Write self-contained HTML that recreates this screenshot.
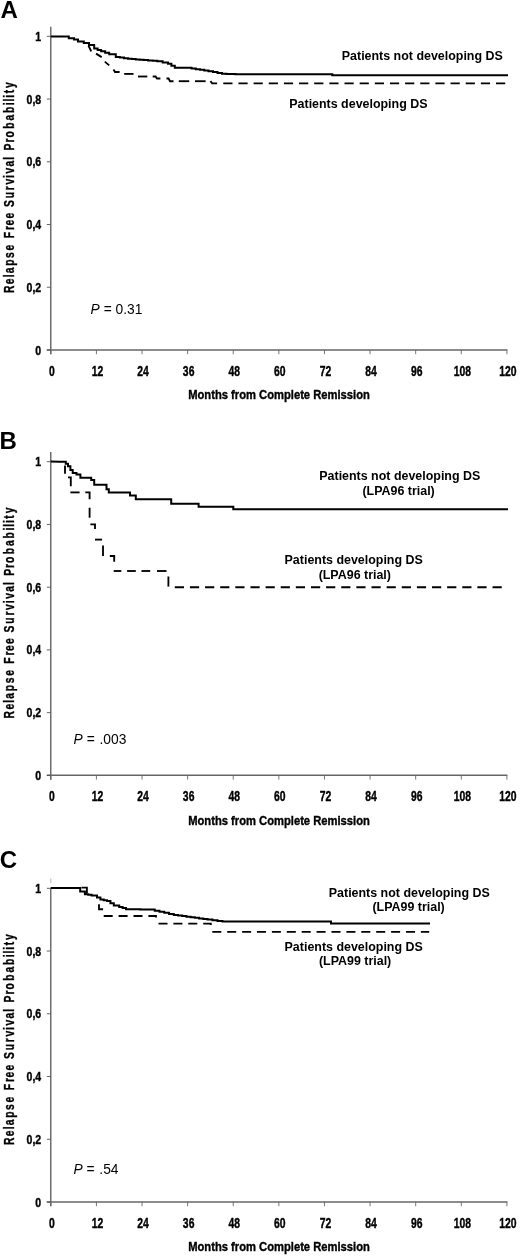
<!DOCTYPE html>
<html><head><meta charset="utf-8"><title>Figure</title>
<style>
html,body{margin:0;padding:0;background:#fff;}
svg{display:block;font-family:"Liberation Sans",sans-serif;fill:#000;}
</style></head>
<body>
<svg width="520" height="1258" viewBox="0 0 520 1258">
<rect width="520" height="1258" fill="#fff"/>
<!--PANEL A-->
<path d="M50.80,26.70 V354.30" fill="none" stroke="#4a4a4a" stroke-width="1.2"/>
<path d="M46.80,349.90 H507.40" fill="none" stroke="#666" stroke-width="1.5"/>
<path d="M46.80,350.00 H50.80" stroke="#555" stroke-width="0.9"/>
<text transform="translate(41.20,354.50) scale(0.77,1)" text-anchor="end" font-size="13.7" font-weight="bold" stroke="#000" stroke-width="0.4" >0</text>
<path d="M46.80,287.26 H50.80" stroke="#555" stroke-width="0.9"/>
<text transform="translate(41.20,291.76) scale(0.77,1)" text-anchor="end" font-size="13.7" font-weight="bold" stroke="#000" stroke-width="0.4" >0,2</text>
<path d="M46.80,224.52 H50.80" stroke="#555" stroke-width="0.9"/>
<text transform="translate(41.20,229.02) scale(0.77,1)" text-anchor="end" font-size="13.7" font-weight="bold" stroke="#000" stroke-width="0.4" >0,4</text>
<path d="M46.80,161.78 H50.80" stroke="#555" stroke-width="0.9"/>
<text transform="translate(41.20,166.28) scale(0.77,1)" text-anchor="end" font-size="13.7" font-weight="bold" stroke="#000" stroke-width="0.4" >0,6</text>
<path d="M46.80,99.04 H50.80" stroke="#555" stroke-width="0.9"/>
<text transform="translate(41.20,103.54) scale(0.77,1)" text-anchor="end" font-size="13.7" font-weight="bold" stroke="#000" stroke-width="0.4" >0,8</text>
<path d="M46.80,36.30 H50.80" stroke="#555" stroke-width="0.9"/>
<text transform="translate(41.20,40.80) scale(0.77,1)" text-anchor="end" font-size="13.7" font-weight="bold" stroke="#000" stroke-width="0.4" >1</text>
<path d="M50.80,349.90 V354.20" stroke="#666" stroke-width="0.9"/>
<text transform="translate(51.80,375.60) scale(0.735,1)" text-anchor="middle" font-size="14.1" font-weight="bold" stroke="#000" stroke-width="0.4" >0</text>
<path d="M96.41,349.90 V354.20" stroke="#666" stroke-width="0.9"/>
<text transform="translate(97.41,375.60) scale(0.735,1)" text-anchor="middle" font-size="14.1" font-weight="bold" stroke="#000" stroke-width="0.4" >12</text>
<path d="M142.02,349.90 V354.20" stroke="#666" stroke-width="0.9"/>
<text transform="translate(143.02,375.60) scale(0.735,1)" text-anchor="middle" font-size="14.1" font-weight="bold" stroke="#000" stroke-width="0.4" >24</text>
<path d="M187.63,349.90 V354.20" stroke="#666" stroke-width="0.9"/>
<text transform="translate(188.63,375.60) scale(0.735,1)" text-anchor="middle" font-size="14.1" font-weight="bold" stroke="#000" stroke-width="0.4" >36</text>
<path d="M233.24,349.90 V354.20" stroke="#666" stroke-width="0.9"/>
<text transform="translate(234.24,375.60) scale(0.735,1)" text-anchor="middle" font-size="14.1" font-weight="bold" stroke="#000" stroke-width="0.4" >48</text>
<path d="M278.85,349.90 V354.20" stroke="#666" stroke-width="0.9"/>
<text transform="translate(279.85,375.60) scale(0.735,1)" text-anchor="middle" font-size="14.1" font-weight="bold" stroke="#000" stroke-width="0.4" >60</text>
<path d="M324.46,349.90 V354.20" stroke="#666" stroke-width="0.9"/>
<text transform="translate(325.46,375.60) scale(0.735,1)" text-anchor="middle" font-size="14.1" font-weight="bold" stroke="#000" stroke-width="0.4" >72</text>
<path d="M370.07,349.90 V354.20" stroke="#666" stroke-width="0.9"/>
<text transform="translate(371.07,375.60) scale(0.735,1)" text-anchor="middle" font-size="14.1" font-weight="bold" stroke="#000" stroke-width="0.4" >84</text>
<path d="M415.68,349.90 V354.20" stroke="#666" stroke-width="0.9"/>
<text transform="translate(416.68,375.60) scale(0.735,1)" text-anchor="middle" font-size="14.1" font-weight="bold" stroke="#000" stroke-width="0.4" >96</text>
<path d="M461.29,349.90 V354.20" stroke="#666" stroke-width="0.9"/>
<text transform="translate(462.29,375.60) scale(0.735,1)" text-anchor="middle" font-size="14.1" font-weight="bold" stroke="#000" stroke-width="0.4" >108</text>
<path d="M506.90,349.90 V354.20" stroke="#666" stroke-width="0.9"/>
<text transform="translate(507.90,375.60) scale(0.735,1)" text-anchor="middle" font-size="14.1" font-weight="bold" stroke="#000" stroke-width="0.4" >120</text>
<text transform="translate(279.00,399.20) scale(0.818,1)" text-anchor="middle" font-size="13.7" font-weight="bold" stroke="#000" stroke-width="0.4" >Months from Complete Remission</text>
<text transform="translate(13.7,0) rotate(-90) scale(0.72,1)" x="-406.95 -394.63 -385.06 -379.63 -369.08 -358.24 -347.82 -339.37 -331.03 -319.46 -313.17 -303.45 -295.00 -287.57 -275.47 -264.18 -256.37 -247.07 -240.88 -231.09 -221.79 -217.32 -208.96 -198.07 -191.03 -178.81 -167.48 -156.93 -146.03 -140.89 -135.68 -129.58 -122.20" y="0" font-size="14.3" font-weight="bold" stroke="#000" stroke-width="0.35">Relapse Free Survival Probability</text>
<text x="0.6" y="17.8" font-size="24" font-weight="bold">A</text>
<polyline points="88.40,45.50 91.30,51.30" fill="none" stroke="#000" stroke-width="1.85" stroke-dasharray="none" stroke-dashoffset="0"/>
<polyline points="96.00,53.60 101.70,57.10" fill="none" stroke="#000" stroke-width="1.85" stroke-dasharray="none" stroke-dashoffset="0"/>
<polyline points="104.80,61.60 109.20,65.40" fill="none" stroke="#000" stroke-width="1.85" stroke-dasharray="none" stroke-dashoffset="0"/>
<polyline points="113.50,69.60 115.00,72.00 119.60,72.00" fill="none" stroke="#000" stroke-width="1.85" stroke-dasharray="none" stroke-dashoffset="0"/>
<polyline points="124.20,73.90 133.50,73.90" fill="none" stroke="#000" stroke-width="1.85" stroke-dasharray="none" stroke-dashoffset="0"/>
<polyline points="138.00,76.50 147.30,76.50" fill="none" stroke="#000" stroke-width="1.85" stroke-dasharray="none" stroke-dashoffset="0"/>
<polyline points="152.70,76.50 155.60,76.50 157.00,78.50 160.40,78.50" fill="none" stroke="#000" stroke-width="1.85" stroke-dasharray="none" stroke-dashoffset="0"/>
<polyline points="166.50,78.50 168.60,78.50 170.00,81.20 173.50,81.20" fill="none" stroke="#000" stroke-width="1.85" stroke-dasharray="none" stroke-dashoffset="0"/>
<polyline points="178.80,81.20 189.20,81.20" fill="none" stroke="#000" stroke-width="1.85" stroke-dasharray="none" stroke-dashoffset="0"/>
<polyline points="195.00,81.20 205.60,81.20" fill="none" stroke="#000" stroke-width="1.85" stroke-dasharray="none" stroke-dashoffset="0"/>
<polyline points="210.40,81.20 212.20,83.40 217.10,83.40" fill="none" stroke="#000" stroke-width="1.85" stroke-dasharray="none" stroke-dashoffset="0"/>
<polyline points="223.30,83.40 505.60,83.40" fill="none" stroke="#000" stroke-width="1.85" stroke-dasharray="9.2 5.95" stroke-dashoffset="0"/>
<polyline points="50.80,36.40 64.80,36.40 68.80,36.40 68.80,38.30 74.00,38.30 74.00,39.50 78.00,39.50 78.00,41.50 83.80,41.50 83.80,42.90 89.00,42.90 89.00,45.00 94.20,45.00 94.20,48.50 97.65,48.50 97.65,49.90 101.10,49.90 101.10,51.30 105.15,51.30 105.15,52.75 109.20,52.75 109.20,54.20 115.80,54.20 115.80,57.00 119.87,57.00 119.87,57.60 123.93,57.60 123.93,58.20 128.00,58.20 128.00,58.80 131.88,58.80 131.88,59.10 135.75,59.10 135.75,59.40 139.62,59.40 139.62,59.70 143.50,59.70 143.50,60.00 148.10,60.00 148.10,60.40 152.70,60.40 152.70,60.80 157.30,60.80 157.30,61.20 162.65,61.20 162.65,62.50 168.00,62.50 168.00,63.80 171.40,63.80 171.40,65.75 174.80,65.75 174.80,67.70 187.30,67.70 191.54,67.70 191.54,68.42 195.78,68.42 195.78,69.14 200.02,69.14 200.02,69.86 204.26,69.86 204.26,70.58 208.50,70.58 208.50,71.30 213.00,71.30 213.00,72.10 217.50,72.10 217.50,72.90 222.00,72.90 222.00,73.70 226.47,73.70 226.47,73.90 230.93,73.90 230.93,74.10 235.40,74.10 235.40,74.30 331.50,74.30 332.30,74.30 332.30,75.30 508.00,75.30" fill="none" stroke="#000" stroke-width="2.0" stroke-linejoin="miter"/>
<text x="422.3" y="60.1" text-anchor="middle" font-size="12.45" font-weight="bold">Patients not developing DS</text>
<text x="358.4" y="107.6" text-anchor="middle" font-size="12.45" font-weight="bold">Patients developing DS</text>
<text x="90.6" y="313.5" font-size="13.8"><tspan font-style="italic">P</tspan> = 0.31</text>
<!--PANEL B-->
<path d="M50.80,452.10 V779.70" fill="none" stroke="#4a4a4a" stroke-width="1.2"/>
<path d="M46.80,775.30 H507.40" fill="none" stroke="#666" stroke-width="1.5"/>
<path d="M46.80,775.40 H50.80" stroke="#555" stroke-width="0.9"/>
<text transform="translate(41.20,779.90) scale(0.77,1)" text-anchor="end" font-size="13.7" font-weight="bold" stroke="#000" stroke-width="0.4" >0</text>
<path d="M46.80,712.66 H50.80" stroke="#555" stroke-width="0.9"/>
<text transform="translate(41.20,717.16) scale(0.77,1)" text-anchor="end" font-size="13.7" font-weight="bold" stroke="#000" stroke-width="0.4" >0,2</text>
<path d="M46.80,649.92 H50.80" stroke="#555" stroke-width="0.9"/>
<text transform="translate(41.20,654.42) scale(0.77,1)" text-anchor="end" font-size="13.7" font-weight="bold" stroke="#000" stroke-width="0.4" >0,4</text>
<path d="M46.80,587.18 H50.80" stroke="#555" stroke-width="0.9"/>
<text transform="translate(41.20,591.68) scale(0.77,1)" text-anchor="end" font-size="13.7" font-weight="bold" stroke="#000" stroke-width="0.4" >0,6</text>
<path d="M46.80,524.44 H50.80" stroke="#555" stroke-width="0.9"/>
<text transform="translate(41.20,528.94) scale(0.77,1)" text-anchor="end" font-size="13.7" font-weight="bold" stroke="#000" stroke-width="0.4" >0,8</text>
<path d="M46.80,461.70 H50.80" stroke="#555" stroke-width="0.9"/>
<text transform="translate(41.20,466.20) scale(0.77,1)" text-anchor="end" font-size="13.7" font-weight="bold" stroke="#000" stroke-width="0.4" >1</text>
<path d="M50.80,775.30 V779.60" stroke="#666" stroke-width="0.9"/>
<text transform="translate(51.80,801.00) scale(0.735,1)" text-anchor="middle" font-size="14.1" font-weight="bold" stroke="#000" stroke-width="0.4" >0</text>
<path d="M96.41,775.30 V779.60" stroke="#666" stroke-width="0.9"/>
<text transform="translate(97.41,801.00) scale(0.735,1)" text-anchor="middle" font-size="14.1" font-weight="bold" stroke="#000" stroke-width="0.4" >12</text>
<path d="M142.02,775.30 V779.60" stroke="#666" stroke-width="0.9"/>
<text transform="translate(143.02,801.00) scale(0.735,1)" text-anchor="middle" font-size="14.1" font-weight="bold" stroke="#000" stroke-width="0.4" >24</text>
<path d="M187.63,775.30 V779.60" stroke="#666" stroke-width="0.9"/>
<text transform="translate(188.63,801.00) scale(0.735,1)" text-anchor="middle" font-size="14.1" font-weight="bold" stroke="#000" stroke-width="0.4" >36</text>
<path d="M233.24,775.30 V779.60" stroke="#666" stroke-width="0.9"/>
<text transform="translate(234.24,801.00) scale(0.735,1)" text-anchor="middle" font-size="14.1" font-weight="bold" stroke="#000" stroke-width="0.4" >48</text>
<path d="M278.85,775.30 V779.60" stroke="#666" stroke-width="0.9"/>
<text transform="translate(279.85,801.00) scale(0.735,1)" text-anchor="middle" font-size="14.1" font-weight="bold" stroke="#000" stroke-width="0.4" >60</text>
<path d="M324.46,775.30 V779.60" stroke="#666" stroke-width="0.9"/>
<text transform="translate(325.46,801.00) scale(0.735,1)" text-anchor="middle" font-size="14.1" font-weight="bold" stroke="#000" stroke-width="0.4" >72</text>
<path d="M370.07,775.30 V779.60" stroke="#666" stroke-width="0.9"/>
<text transform="translate(371.07,801.00) scale(0.735,1)" text-anchor="middle" font-size="14.1" font-weight="bold" stroke="#000" stroke-width="0.4" >84</text>
<path d="M415.68,775.30 V779.60" stroke="#666" stroke-width="0.9"/>
<text transform="translate(416.68,801.00) scale(0.735,1)" text-anchor="middle" font-size="14.1" font-weight="bold" stroke="#000" stroke-width="0.4" >96</text>
<path d="M461.29,775.30 V779.60" stroke="#666" stroke-width="0.9"/>
<text transform="translate(462.29,801.00) scale(0.735,1)" text-anchor="middle" font-size="14.1" font-weight="bold" stroke="#000" stroke-width="0.4" >108</text>
<path d="M506.90,775.30 V779.60" stroke="#666" stroke-width="0.9"/>
<text transform="translate(507.90,801.00) scale(0.735,1)" text-anchor="middle" font-size="14.1" font-weight="bold" stroke="#000" stroke-width="0.4" >120</text>
<text transform="translate(279.00,824.60) scale(0.818,1)" text-anchor="middle" font-size="13.7" font-weight="bold" stroke="#000" stroke-width="0.4" >Months from Complete Remission</text>
<text transform="translate(13.7,0) rotate(-90) scale(0.72,1)" x="-997.79 -985.46 -975.89 -970.46 -959.92 -949.07 -938.66 -930.20 -921.86 -910.29 -904.00 -894.28 -885.83 -878.40 -866.31 -855.01 -847.20 -837.90 -831.71 -821.92 -812.63 -808.15 -799.79 -788.90 -781.86 -769.64 -758.31 -747.76 -736.86 -731.72 -726.52 -720.42 -713.03" y="0" font-size="14.3" font-weight="bold" stroke="#000" stroke-width="0.35">Relapse Free Survival Probability</text>
<text x="-0.6" y="448.8" font-size="24" font-weight="bold">B</text>
<polyline points="65.00,465.40 65.00,473.80" fill="none" stroke="#000" stroke-width="1.85" stroke-dasharray="none" stroke-dashoffset="0"/>
<polyline points="68.00,477.40 70.80,477.40 70.80,486.20" fill="none" stroke="#000" stroke-width="1.85" stroke-dasharray="none" stroke-dashoffset="0"/>
<polyline points="70.40,492.40 79.60,492.40" fill="none" stroke="#000" stroke-width="1.85" stroke-dasharray="none" stroke-dashoffset="0"/>
<polyline points="85.30,492.40 89.60,492.40 89.60,499.20" fill="none" stroke="#000" stroke-width="1.85" stroke-dasharray="none" stroke-dashoffset="0"/>
<polyline points="89.60,507.70 89.60,517.70" fill="none" stroke="#000" stroke-width="1.85" stroke-dasharray="none" stroke-dashoffset="0"/>
<polyline points="90.40,524.30 95.00,524.30 95.00,529.00" fill="none" stroke="#000" stroke-width="1.85" stroke-dasharray="none" stroke-dashoffset="0"/>
<polyline points="95.00,539.60 102.10,539.60" fill="none" stroke="#000" stroke-width="1.85" stroke-dasharray="none" stroke-dashoffset="0"/>
<polyline points="103.00,545.40 103.00,556.00" fill="none" stroke="#000" stroke-width="1.85" stroke-dasharray="none" stroke-dashoffset="0"/>
<polyline points="109.80,556.00 114.20,556.00 114.20,561.70" fill="none" stroke="#000" stroke-width="1.85" stroke-dasharray="none" stroke-dashoffset="0"/>
<polyline points="113.70,571.00 121.30,571.00" fill="none" stroke="#000" stroke-width="1.85" stroke-dasharray="none" stroke-dashoffset="0"/>
<polyline points="127.10,571.00 135.80,571.00" fill="none" stroke="#000" stroke-width="1.85" stroke-dasharray="none" stroke-dashoffset="0"/>
<polyline points="141.50,571.00 150.20,571.00" fill="none" stroke="#000" stroke-width="1.85" stroke-dasharray="none" stroke-dashoffset="0"/>
<polyline points="157.00,571.00 166.50,571.00" fill="none" stroke="#000" stroke-width="1.85" stroke-dasharray="none" stroke-dashoffset="0"/>
<polyline points="168.40,576.50 168.40,586.60" fill="none" stroke="#000" stroke-width="1.85" stroke-dasharray="none" stroke-dashoffset="0"/>
<polyline points="174.80,587.20 503.00,587.20" fill="none" stroke="#000" stroke-width="1.85" stroke-dasharray="9.2 5.93" stroke-dashoffset="0"/>
<polyline points="50.80,461.60 59.60,461.80 65.80,461.80 65.80,463.80 68.00,463.80 68.00,466.20 70.40,466.20 70.40,470.00 72.70,470.00 72.70,473.00 76.50,473.00 76.50,474.60 80.40,474.60 80.40,477.70 90.40,477.70 91.20,477.70 91.20,480.00 94.20,480.00 94.20,484.70 105.80,484.70 106.50,484.70 106.50,489.20 108.80,489.20 108.80,492.40 125.20,492.40 130.00,492.40 130.00,495.40 135.80,495.40 135.80,499.20 168.80,499.20 171.20,499.20 171.20,503.70 198.00,503.70 198.60,503.70 198.60,506.80 232.50,506.80 233.30,506.80 233.30,509.30 508.00,509.30" fill="none" stroke="#000" stroke-width="2.0" stroke-linejoin="miter"/>
<text x="399.8" y="479.6" text-anchor="middle" font-size="12.45" font-weight="bold">Patients not developing DS</text>
<text x="398.6" y="494.7" text-anchor="middle" font-size="12.45" font-weight="bold">(LPA96 trial)</text>
<text x="353.7" y="564.1" text-anchor="middle" font-size="12.45" font-weight="bold">Patients developing DS</text>
<text x="354.8" y="578.8" text-anchor="middle" font-size="12.45" font-weight="bold">(LPA96 trial)</text>
<text x="73.6" y="743.5999999999999" font-size="13.8"><tspan font-style="italic">P</tspan> = <tspan dx="1.0">.003</tspan></text>
<!--PANEL C-->
<path d="M50.80,878.50 V883.10" fill="none" stroke="#b5b5b5" stroke-width="1"/>
<path d="M50.80,887.70 V1206.30" fill="none" stroke="#4a4a4a" stroke-width="1.2"/>
<path d="M46.80,1201.90 H507.40" fill="none" stroke="#666" stroke-width="1.5"/>
<path d="M46.80,1202.00 H50.80" stroke="#555" stroke-width="0.9"/>
<text transform="translate(41.20,1206.50) scale(0.77,1)" text-anchor="end" font-size="13.7" font-weight="bold" stroke="#000" stroke-width="0.4" >0</text>
<path d="M46.80,1139.26 H50.80" stroke="#555" stroke-width="0.9"/>
<text transform="translate(41.20,1143.76) scale(0.77,1)" text-anchor="end" font-size="13.7" font-weight="bold" stroke="#000" stroke-width="0.4" >0,2</text>
<path d="M46.80,1076.52 H50.80" stroke="#555" stroke-width="0.9"/>
<text transform="translate(41.20,1081.02) scale(0.77,1)" text-anchor="end" font-size="13.7" font-weight="bold" stroke="#000" stroke-width="0.4" >0,4</text>
<path d="M46.80,1013.78 H50.80" stroke="#555" stroke-width="0.9"/>
<text transform="translate(41.20,1018.28) scale(0.77,1)" text-anchor="end" font-size="13.7" font-weight="bold" stroke="#000" stroke-width="0.4" >0,6</text>
<path d="M46.80,951.04 H50.80" stroke="#555" stroke-width="0.9"/>
<text transform="translate(41.20,955.54) scale(0.77,1)" text-anchor="end" font-size="13.7" font-weight="bold" stroke="#000" stroke-width="0.4" >0,8</text>
<path d="M46.80,888.30 H50.80" stroke="#555" stroke-width="0.9"/>
<text transform="translate(41.20,892.80) scale(0.77,1)" text-anchor="end" font-size="13.7" font-weight="bold" stroke="#000" stroke-width="0.4" >1</text>
<path d="M50.80,1201.90 V1206.20" stroke="#666" stroke-width="0.9"/>
<text transform="translate(51.80,1227.60) scale(0.735,1)" text-anchor="middle" font-size="14.1" font-weight="bold" stroke="#000" stroke-width="0.4" >0</text>
<path d="M96.41,1201.90 V1206.20" stroke="#666" stroke-width="0.9"/>
<text transform="translate(97.41,1227.60) scale(0.735,1)" text-anchor="middle" font-size="14.1" font-weight="bold" stroke="#000" stroke-width="0.4" >12</text>
<path d="M142.02,1201.90 V1206.20" stroke="#666" stroke-width="0.9"/>
<text transform="translate(143.02,1227.60) scale(0.735,1)" text-anchor="middle" font-size="14.1" font-weight="bold" stroke="#000" stroke-width="0.4" >24</text>
<path d="M187.63,1201.90 V1206.20" stroke="#666" stroke-width="0.9"/>
<text transform="translate(188.63,1227.60) scale(0.735,1)" text-anchor="middle" font-size="14.1" font-weight="bold" stroke="#000" stroke-width="0.4" >36</text>
<path d="M233.24,1201.90 V1206.20" stroke="#666" stroke-width="0.9"/>
<text transform="translate(234.24,1227.60) scale(0.735,1)" text-anchor="middle" font-size="14.1" font-weight="bold" stroke="#000" stroke-width="0.4" >48</text>
<path d="M278.85,1201.90 V1206.20" stroke="#666" stroke-width="0.9"/>
<text transform="translate(279.85,1227.60) scale(0.735,1)" text-anchor="middle" font-size="14.1" font-weight="bold" stroke="#000" stroke-width="0.4" >60</text>
<path d="M324.46,1201.90 V1206.20" stroke="#666" stroke-width="0.9"/>
<text transform="translate(325.46,1227.60) scale(0.735,1)" text-anchor="middle" font-size="14.1" font-weight="bold" stroke="#000" stroke-width="0.4" >72</text>
<path d="M370.07,1201.90 V1206.20" stroke="#666" stroke-width="0.9"/>
<text transform="translate(371.07,1227.60) scale(0.735,1)" text-anchor="middle" font-size="14.1" font-weight="bold" stroke="#000" stroke-width="0.4" >84</text>
<path d="M415.68,1201.90 V1206.20" stroke="#666" stroke-width="0.9"/>
<text transform="translate(416.68,1227.60) scale(0.735,1)" text-anchor="middle" font-size="14.1" font-weight="bold" stroke="#000" stroke-width="0.4" >96</text>
<path d="M461.29,1201.90 V1206.20" stroke="#666" stroke-width="0.9"/>
<text transform="translate(462.29,1227.60) scale(0.735,1)" text-anchor="middle" font-size="14.1" font-weight="bold" stroke="#000" stroke-width="0.4" >108</text>
<path d="M506.90,1201.90 V1206.20" stroke="#666" stroke-width="0.9"/>
<text transform="translate(507.90,1227.60) scale(0.735,1)" text-anchor="middle" font-size="14.1" font-weight="bold" stroke="#000" stroke-width="0.4" >120</text>
<text transform="translate(279.00,1251.20) scale(0.818,1)" text-anchor="middle" font-size="13.7" font-weight="bold" stroke="#000" stroke-width="0.4" >Months from Complete Remission</text>
<text transform="translate(13.7,0) rotate(-90) scale(0.72,1)" x="-1590.29 -1577.96 -1568.39 -1562.96 -1552.42 -1541.57 -1531.16 -1522.70 -1514.36 -1502.79 -1496.50 -1486.78 -1478.33 -1470.90 -1458.81 -1447.51 -1439.70 -1430.40 -1424.21 -1414.42 -1405.13 -1400.65 -1392.29 -1381.40 -1374.36 -1362.14 -1350.81 -1340.26 -1329.36 -1324.22 -1319.02 -1312.92 -1305.53" y="0" font-size="14.3" font-weight="bold" stroke="#000" stroke-width="0.35">Relapse Free Survival Probability</text>
<text x="-0.3" y="868.4" font-size="24" font-weight="bold">C</text>
<polyline points="81.50,887.60 86.90,887.60 86.90,893.50" fill="none" stroke="#000" stroke-width="1.85" stroke-dasharray="none" stroke-dashoffset="0"/>
<polyline points="99.00,904.20 99.00,909.20 103.10,909.20" fill="none" stroke="#000" stroke-width="1.85" stroke-dasharray="none" stroke-dashoffset="0"/>
<polyline points="103.70,916.00 156.00,916.00 156.00,921.00" fill="none" stroke="#000" stroke-width="1.85" stroke-dasharray="9 5.9" stroke-dashoffset="0"/>
<polyline points="158.50,923.60 210.80,923.60 210.80,928.00" fill="none" stroke="#000" stroke-width="1.85" stroke-dasharray="9 5.9" stroke-dashoffset="0"/>
<polyline points="212.30,931.80 429.20,931.80" fill="none" stroke="#000" stroke-width="1.85" stroke-dasharray="9 5.9" stroke-dashoffset="0"/>
<polyline points="50.80,888.10 74.10,888.10 80.20,888.10 80.20,891.50 84.90,891.50 84.90,894.20 88.25,894.20 88.25,894.85 91.60,894.85 91.60,895.50 97.00,895.50 97.00,897.50 100.40,897.50 100.40,899.50 103.75,899.50 103.75,900.20 107.10,900.20 107.10,900.90 110.45,900.90 110.45,903.25 113.80,903.25 113.80,905.60 119.20,905.60 119.20,906.90 122.60,906.90 122.60,908.05 126.00,908.05 126.00,909.20 130.80,909.20 130.80,909.28 135.60,909.28 135.60,909.36 140.40,909.36 140.40,909.44 145.20,909.44 145.20,909.52 150.00,909.52 150.00,909.60 154.76,909.60 154.76,910.68 159.52,910.68 159.52,911.76 164.28,911.76 164.28,912.84 169.04,912.84 169.04,913.92 173.80,913.92 173.80,915.00 178.01,915.00 178.01,915.56 182.23,915.56 182.23,916.12 186.44,916.12 186.44,916.69 190.65,916.69 190.65,917.25 194.86,917.25 194.86,917.81 199.07,917.81 199.07,918.38 203.29,918.38 203.29,918.94 207.50,918.94 207.50,919.50 212.50,919.50 212.50,920.20 217.50,920.20 217.50,920.90 222.50,920.90 222.50,921.60 330.00,921.60 331.00,921.60 331.00,923.50 430.00,923.50" fill="none" stroke="#000" stroke-width="2.0" stroke-linejoin="miter"/>
<text x="409.3" y="896.7" text-anchor="middle" font-size="12.45" font-weight="bold">Patients not developing DS</text>
<text x="408.6" y="911.4" text-anchor="middle" font-size="12.45" font-weight="bold">(LPA99 trial)</text>
<text x="353.7" y="950.6" text-anchor="middle" font-size="12.45" font-weight="bold">Patients developing DS</text>
<text x="355.1" y="964.9" text-anchor="middle" font-size="12.45" font-weight="bold">(LPA99 trial)</text>
<text x="73.4" y="1174.2" font-size="13.8"><tspan font-style="italic">P</tspan> = <tspan dx="1.0">.54</tspan></text>
</svg>
</body></html>
